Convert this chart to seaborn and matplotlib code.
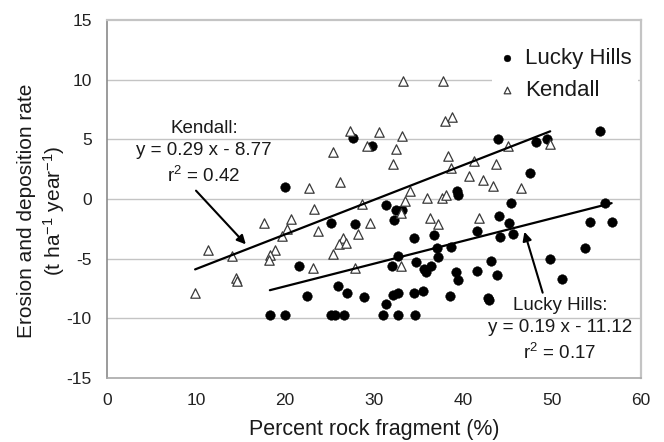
import matplotlib
matplotlib.use("Agg")
import numpy as np
import pandas as pd
import seaborn as sns
import matplotlib.pyplot as plt

# ---------------- data ----------------
series_names = ["Lucky Hills", "Kendall"]

lh_x = [20.0, 27.6, 29.8, 39.3, 39.4, 31.3, 32.5, 33.2, 32.3, 55.4, 43.9, 48.2, 49.4,
        47.5, 45.4, 56.0, 44.1, 18.3, 20.0, 21.6, 25.2, 27.9, 34.5, 36.7, 41.6, 38.6,
        37.1, 37.2, 32.7, 32.0, 34.7, 35.6, 35.8, 36.4, 39.2, 39.4, 41.6, 25.9, 27.0,
        28.9, 22.5, 32.1, 32.7, 34.5, 35.5, 38.5, 31.3, 25.2, 25.6, 26.6, 31.0, 32.7,
        34.6, 45.2, 44.2, 45.6, 54.3, 56.7, 53.7, 43.1, 43.8, 49.8, 51.1, 42.8, 42.9]
lh_y = [1.0, 5.1, 4.4, 0.7, 0.3, -0.5, -0.9, -0.9, -1.8, 5.7, 5.05, 4.8, 5.0,
        2.2, -0.3, -0.3, -1.4, -9.7, -9.7, -5.6, -2.0, -2.1, -3.25, -3.0, -2.7, -4.0,
        -4.1, -4.9, -4.8, -5.6, -5.3, -5.9, -6.1, -5.6, -6.1, -6.8, -6.0, -7.3, -7.9,
        -8.25, -8.1, -8.05, -7.9, -7.9, -7.7, -8.1, -8.8, -9.7, -9.7, -9.7, -9.7, -9.7,
        -9.7, -2.05, -3.2, -2.95, -1.9, -1.9, -4.1, -5.2, -6.4, -5.0, -6.7, -8.3, -8.45]

kd_x = [33.3, 37.8, 38.8, 38.0, 27.3, 30.6, 33.2, 29.2, 32.5, 25.4, 38.3, 32.1, 38.7,
        40.7, 41.2, 26.2, 22.7, 34.1, 36.0, 37.6, 38.1, 33.5, 28.7, 23.3, 20.7, 41.8,
        36.3, 49.8, 45.1, 43.7, 42.2, 43.4, 46.5, 17.6, 20.2, 19.7, 11.3, 14.1, 18.9,
        18.3, 18.2, 14.5, 14.6, 9.9, 23.7, 29.5, 28.2, 26.5, 26.1, 26.9, 25.4, 23.2,
        27.9, 33.0, 37.2, 33.0]
kd_y = [9.9, 9.9, 6.9, 6.5, 5.7, 5.6, 5.3, 4.4, 4.2, 3.9, 3.6, 2.9, 2.6,
        1.9, 3.2, 1.4, 0.9, 0.7, 0.05, 0.05, 0.3, -0.2, -0.4, -0.8, -1.7, -1.6,
        -1.6, 4.6, 4.4, 2.9, 1.6, 1.05, 0.9, -2.05, -2.5, -3.1, -4.3, -4.8, -4.3,
        -4.7, -5.1, -6.6, -6.9, -7.9, -2.7, -2.05, -2.9, -3.3, -3.8, -3.7, -4.6, -5.8,
        -5.8, -5.6, -2.1, -1.2]

kd_slope, kd_intercept, kd_r2 = 0.29, -8.77, 0.42
lh_slope, lh_intercept, lh_r2 = 0.19, -11.12, 0.17

x_ticks = [0, 10, 20, 30, 40, 50, 60]
y_ticks = [-15, -10, -5, 0, 5, 10, 15]

# ---------------- style ----------------
sns.set_theme(style="white")
plt.rcParams['font.family'] = ['Liberation Sans', 'DejaVu Sans']
plt.rcParams['mathtext.fontset'] = 'custom'
plt.rcParams['mathtext.rm'] = 'Liberation Sans'
plt.rcParams['mathtext.it'] = 'Liberation Sans:italic'
plt.rcParams['mathtext.bf'] = 'Liberation Sans:bold'

fig = plt.figure(figsize=(6.64, 4.42), dpi=100)
ax = fig.add_axes([107 / 664, 1 - 378 / 442, (641 - 107) / 664, (378 - 20) / 442])

lh = pd.DataFrame({"x": lh_x, "y": lh_y})
kd = pd.DataFrame({"x": kd_x, "y": kd_y})

# grid
for yv in y_ticks[1:-1]:
    ax.axhline(yv, color="#c4c4c4", lw=1.0, zorder=0)

sns.scatterplot(data=lh, x="x", y="y", ax=ax, marker="o", s=48, color="black",
                edgecolor="black", linewidth=0.3, label=series_names[0], zorder=3)
sns.scatterplot(data=kd, x="x", y="y", ax=ax, marker="^", s=46, facecolor="white",
                edgecolor="#3a3a3a", linewidth=0.9, label=series_names[1], zorder=3)

# regression lines
kd_lx = np.array([min(kd_x), max(kd_x)])
lh_lx = np.array([min(lh_x), max(lh_x)])
sns.lineplot(x=kd_lx, y=kd_slope * kd_lx + kd_intercept, ax=ax, color="black", lw=1.6,
             legend=False, zorder=4)
sns.lineplot(x=lh_lx, y=lh_slope * lh_lx + lh_intercept, ax=ax, color="black", lw=1.6,
             legend=False, zorder=4)

# annotations
ax.text(10.9, 3.87, f"Kendall:\ny = {kd_slope:.2f} x - {abs(kd_intercept):.2f}\nr$^2$ = {kd_r2:.2f}",
        ha="center", va="center", fontsize=13.5, linespacing=1.42, color="#1a1a1a", zorder=5)
ax.text(50.9, -10.95, f"Lucky Hills:\ny = {lh_slope:.2f} x - {abs(lh_intercept):.2f}\nr$^2$ = {lh_r2:.2f}",
        ha="center", va="center", fontsize=13.5, linespacing=1.42, color="#1a1a1a", zorder=5)
ax.annotate("", xy=(15.6, -3.8), xytext=(10.0, 0.7),
            arrowprops=dict(arrowstyle="-|>", color="black", lw=1.5, mutation_scale=13,
                            shrinkA=0, shrinkB=0), zorder=5)
ax.annotate("", xy=(46.9, -2.75), xytext=(48.95, -7.85),
            arrowprops=dict(arrowstyle="-|>", color="black", lw=1.5, mutation_scale=13,
                            shrinkA=0, shrinkB=0), zorder=5)

# axes
ax.set_xlim(0, 60)
ax.set_ylim(-15, 15)
ax.set_xticks(x_ticks)
ax.set_yticks(y_ticks)
ax.set_xticklabels([str(t) for t in x_ticks])
ax.set_yticklabels([str(t) for t in y_ticks])
ax.tick_params(axis="both", labelsize=12.5, colors="#222222", length=5, width=1,
               direction="out")
ax.tick_params(axis="x", pad=6, color="#a0a0a0")
ax.tick_params(axis="y", pad=4, length=7, color="#909090")
ax.set_xlabel("Percent rock fragment (%)", fontsize=15.5, color="#1a1a1a", labelpad=7.5)
ax.set_ylabel("Erosion and deposition rate\n(t ha$^{-1}$ year$^{-1}$)", fontsize=15,
              color="#1a1a1a", linespacing=1.3)
ax.yaxis.set_label_coords(-0.074, 0.466)

for side, col, lw in [("left", "#8a8a8a", 1.2), ("bottom", "#a8a8a8", 1.2),
                      ("top", "#c4c4c4", 1.6), ("right", "#c4c4c4", 1.6)]:
    ax.spines[side].set_visible(True)
    ax.spines[side].set_color(col)
    ax.spines[side].set_linewidth(lw)

leg = ax.legend(loc="upper right", bbox_to_anchor=(0.995, 0.94), frameon=True,
                facecolor="white", edgecolor="none", framealpha=1, fontsize=16,
                markerscale=0.7, handlelength=0.8, handletextpad=0.4, labelspacing=0.5,
                borderpad=0.3, borderaxespad=0)
for t in leg.get_texts():
    t.set_color("#1a1a1a")

fig.savefig("out.png", dpi=100)
